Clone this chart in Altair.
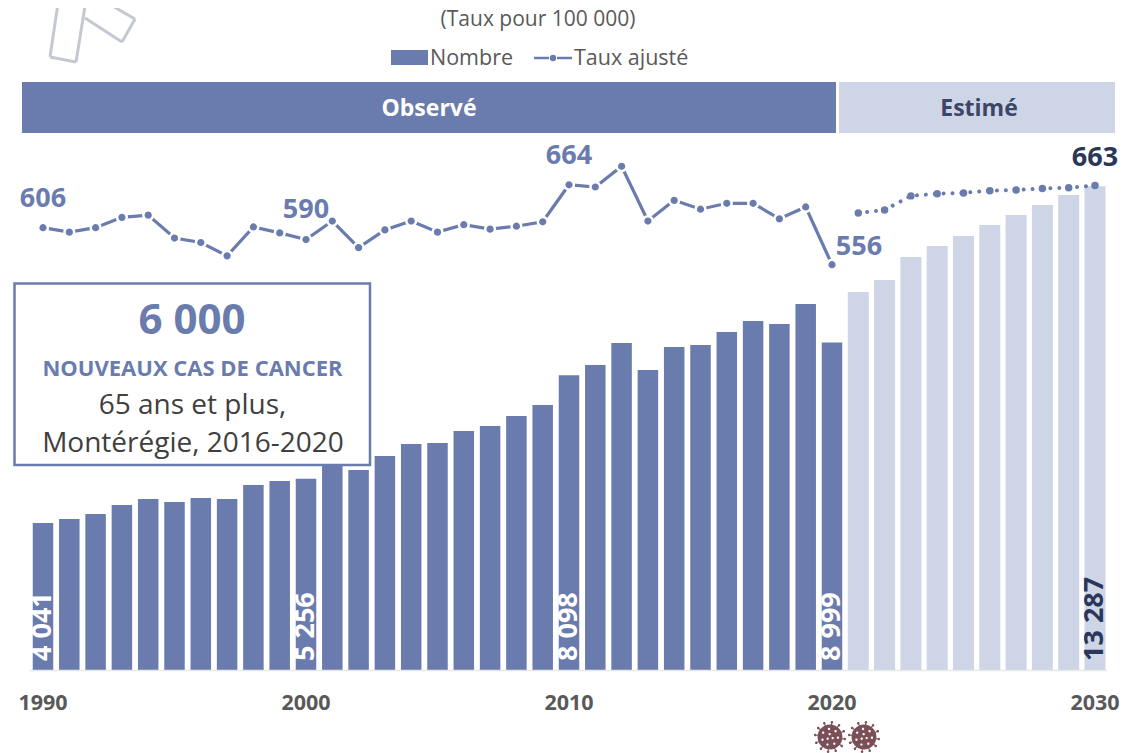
import math
import altair as alt

W, H = 1129, 745
BLUE = "#6a7cae"
LIGHT = "#ced5e6"
DARK = "#2b3759"
GRAY = "#595959"
FONT = "Open Sans"

years_obs = list(range(1990, 2021))
years_est = list(range(2021, 2031))
count_obs = [4041, 4148, 4286, 4533, 4698, 4615, 4725, 4698, 5082, 5192, 5256,
             5632, 5495, 5879, 6209, 6236, 6566, 6703, 6978, 7280, 8098,
             8379, 8984, 8242, 8874, 8929, 9286, 9588, 9505, 10055, 8999]
count_est = [10385, 10714, 11346, 11648, 11923, 12225, 12500, 12775, 13049, 13287]
rate_obs = [606, 600, 606, 620, 623, 592, 586, 568, 607, 599, 590,
            615, 579, 603, 615, 600, 610, 604, 608, 614, 664,
            661, 689, 615, 643, 631, 639, 639, 618, 634, 556]
rate_est = [626, 630, 649, 652, 653, 656, 657, 659, 660, 663]
tick_years = [1990, 2000, 2010, 2020, 2030]

rows_obs = [{"year": y, "count": c, "rate": r} for y, c, r in zip(years_obs, count_obs, rate_obs)]
rows_est = [{"year": y, "count": c, "rate": r} for y, c, r in zip(years_est, count_est, rate_est)]
one = alt.Data(values=[{"a": 1}])

# reference pixels -> canvas pixels: subtract the 8px page margin
PX_YEAR = 26.3
x_scale = alt.Scale(domain=[1990 + (8 - 43) / PX_YEAR, 1990 + (8 + W - 43) / PX_YEAR],
                    nice=False, zero=False, padding=0)
K = 0.0364
y_count_scale = alt.Scale(domain=[(670 - (8 + H)) / K, (670 - 8) / K], nice=False, zero=False)
R = 0.74
y_rate_scale = alt.Scale(domain=[606 + (227.7 - (8 + H)) / R, 606 + (227.7 - 8) / R], nice=False, zero=False)

x_plain = alt.X("year:Q", scale=x_scale, axis=None)
y_count = alt.Y("count:Q", scale=y_count_scale, axis=None, stack=None)
y_rate = alt.Y("rate:Q", scale=y_rate_scale, axis=None)


def X(v):
    return alt.value(v - 8)


def Y(v):
    return alt.value(v - 8)


def rect(x0, y0, x1, y1, **kw):
    return alt.Chart(one).mark_rect(**kw).encode(x=X(x0), x2=X(x1), y=Y(y0), y2=Y(y1))


def seg(x0, y0, x1, y1, **kw):
    return alt.Chart(one).mark_rule(**kw).encode(x=X(x0), x2=X(x1), y=Y(y0), y2=Y(y1))


def label(x, y, s, size, color, weight="normal", align="center"):
    return alt.Chart(one).mark_text(text=s, font=FONT, fontSize=size, color=color, fontWeight=weight,
                                    align=align, baseline="middle").encode(x=X(x), y=Y(y))


def circ(cx, cy, r):
    return f"M{cx - r:.3f},{cy:.3f}a{r},{r} 0 1,0 {2 * r},0a{r},{r} 0 1,0 {-2 * r},0Z"


def virus_shape():
    p = [circ(0, 0, 0.78)]
    for i in range(12):
        a = i * math.pi / 6 + 0.13
        c, s = math.cos(a), math.sin(a)
        w = 0.035
        p.append(f"M{0.7 * c - w * s:.3f},{0.7 * s + w * c:.3f}L{0.93 * c - w * s:.3f},{0.93 * s + w * c:.3f}"
                 f"L{0.93 * c + w * s:.3f},{0.93 * s - w * c:.3f}L{0.7 * c + w * s:.3f},{0.7 * s - w * c:.3f}Z")
        p.append(circ(round(0.93 * c, 3), round(0.93 * s, 3), 0.08))
    return "".join(p)


def virus_holes():
    p = []
    for r, n, a0 in [(0.18, 3, 0.4), (0.5, 7, 0.1)]:
        for k in range(n):
            a = a0 + k * 2 * math.pi / n
            p.append(circ(round(r * math.cos(a), 3), round(r * math.sin(a), 3), 0.075))
    return "".join(p)


layers = []

# ribbon fragment, clipped by the top of the page
RIB = dict(color="#c4c8d1", strokeWidth=3)
for a in [(58.5, 0, 50, 57), (50, 57, 76, 62), (76, 62, 86, 0),
          (85, 18, 122, 42), (122, 42, 135, 19), (135, 19, 102, 0)]:
    layers.append(seg(*a, **RIB))

# bars
layers.append(alt.Chart(alt.Data(values=rows_obs)).mark_bar(size=20.5, color=BLUE).encode(x=x_plain, y=y_count))
layers.append(alt.Chart(alt.Data(values=rows_est)).mark_bar(size=21, color=LIGHT).encode(x=x_plain, y=y_count))
layers.append(seg(30, 670.5, 1107, 670.5, color="#e8e8e8", strokeWidth=1.5))

# year labels
layers.append(alt.Chart(alt.Data(values=[{"year": y} for y in tick_years])).mark_text(
    font=FONT, fontSize=21.5, fontWeight="bold", color=GRAY, baseline="middle"
).encode(x=x_plain, y=Y(704), text=alt.Text("year:Q", format="d")))

# rate lines
layers.append(alt.Chart(alt.Data(values=rows_obs)).mark_line(color=BLUE, strokeWidth=3.2).encode(x=x_plain, y=y_rate))
layers.append(alt.Chart(alt.Data(values=rows_est)).mark_line(color=BLUE, strokeWidth=4, strokeCap="round",
                                                              strokeDash=[0.01, 8.9]).encode(x=x_plain, y=y_rate))
layers.append(alt.Chart(alt.Data(values=rows_obs)).mark_point(
    filled=True, fill=BLUE, stroke="white", strokeWidth=2.5, opacity=1, size=95).encode(x=x_plain, y=y_rate))
layers.append(alt.Chart(alt.Data(values=rows_est)).mark_point(
    filled=True, fill=BLUE, opacity=1, size=56).encode(x=x_plain, y=y_rate))

# rate labels
rate_labels = [(rows_obs[0], 0, -29, BLUE), (rows_obs[10], 0, -29.5, BLUE), (rows_obs[20], 0, -28.5, BLUE),
               (rows_obs[30], 27, -18, BLUE), (rows_est[9], 0, -27.5, DARK)]
for row, dx, dy, col in rate_labels:
    layers.append(alt.Chart(alt.Data(values=[row])).mark_text(
        font=FONT, fontSize=27, fontWeight="bold", color=col, dx=dx, dy=dy, baseline="middle"
    ).encode(x=x_plain, y=y_rate, text="rate:Q"))

# count labels inside bars
count_labels = [(rows_obs[0], "4 041", "white"), (rows_obs[10], "5 256", "white"), (rows_obs[20], "8 098", "white"),
                (rows_obs[30], "8 999", "white"), (rows_est[9], "13 287", DARK)]
for row, s, col in count_labels:
    base = dict(row)
    base["zero"] = 0
    layers.append(alt.Chart(alt.Data(values=[base])).mark_text(
        text=s, font=FONT, fontSize=27, fontWeight="bold", color=col, angle=270, align="left",
        baseline="middle", yOffset=-9
    ).encode(x=x_plain, y=alt.Y("zero:Q", scale=y_count_scale, axis=None)))

# banners
layers.append(rect(22, 82, 836, 133, color=BLUE))
layers.append(rect(839, 82, 1115, 133, color=LIGHT))
layers.append(label(429, 108.5, "Observé", 23, "white", "bold"))
layers.append(label(979, 108.5, "Estimé", 23, "#3b4668", "bold"))

# legend
layers.append(label(538, 20, "(Taux pour 100 000)", 21, GRAY))
layers.append(rect(391, 50, 428, 65, color=BLUE))
layers.append(label(430, 59, "Nombre", 21.5, GRAY, align="left"))
layers.append(seg(534, 58, 549, 58, color=BLUE, strokeWidth=2.5))
layers.append(seg(557, 58, 572, 58, color=BLUE, strokeWidth=2.5))
layers.append(alt.Chart(one).mark_point(filled=True, color=BLUE, opacity=1, size=40).encode(x=X(553), y=Y(58)))
layers.append(label(574, 59, "Taux ajusté", 21.5, GRAY, align="left"))

# call-out box
layers.append(rect(14.5, 283.5, 370, 465, fill="white", stroke=BLUE, strokeWidth=2.5))
layers.append(label(192, 321, "6 000", 42, BLUE, "bold"))
layers.append(label(192.5, 369, "NOUVEAUX CAS DE CANCER", 22, BLUE, "bold"))
layers.append(label(192.5, 406, "65 ans et plus,", 28, "#404040"))
layers.append(label(193, 444, "Montérégie, 2016-2020", 28, "#404040"))

# virus icons
for cx in (830, 864):
    layers.append(alt.Chart(one).mark_point(shape=virus_shape(), filled=True, fill="#7b4f57", stroke=None,
                                            opacity=1, size=1024).encode(x=X(cx), y=Y(737)))
    layers.append(alt.Chart(one).mark_point(shape=virus_holes(), filled=True, fill="white", stroke=None,
                                            opacity=1, size=1024).encode(x=X(cx), y=Y(737)))

chart = alt.layer(*layers).resolve_scale(y="independent").properties(
    width=W, height=H, padding=0, autosize=alt.AutoSizeParams(type="none")
).configure(background="white", view=alt.ViewConfig(stroke=None))

chart.save("out.html", embed_options={"renderer": "svg", "actions": False})
